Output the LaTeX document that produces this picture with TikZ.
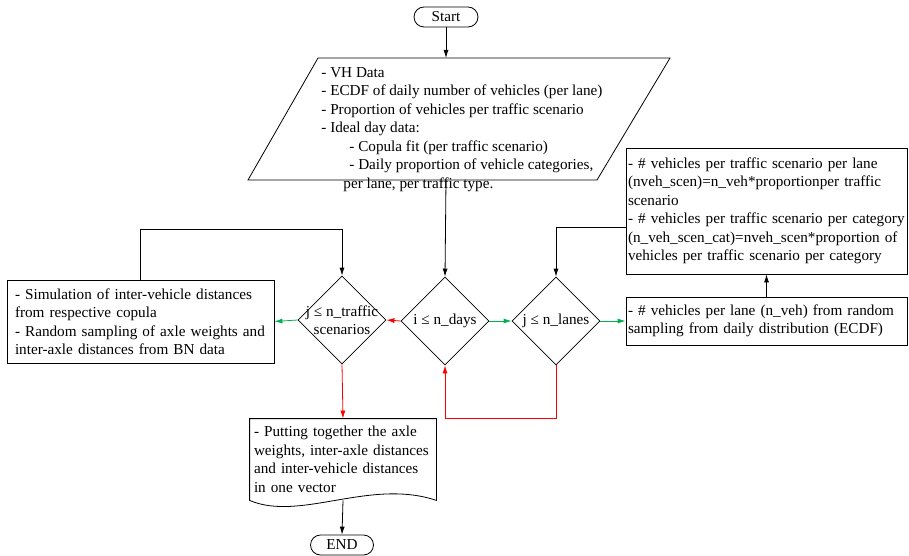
\documentclass[tikz,border=0pt]{standalone}
\usepackage{fontspec}
\setmainfont{Liberation Serif}
\usetikzlibrary{shapes.geometric,shapes.misc,arrows.meta}

\definecolor{flowgreen}{RGB}{0,176,80}
\definecolor{flowred}{RGB}{255,0,0}

\tikzset{
  term/.style={draw,rounded rectangle,minimum width=64,minimum height=20,inner sep=0pt},
  decision/.style={draw,diamond,minimum width=88,minimum height=88,inner sep=0pt},
  stepbox/.style={draw,rectangle,align=left,inner ysep=0pt},
  doc/.style={rectangle,align=left,minimum width=186,minimum height=81,inner xsep=4pt,text width=178},
  arr/.style={-{Latex[length=8pt,width=5pt]}},
  goline/.style={arr,flowgreen},
  stopline/.style={arr,flowred}
}

\begin{document}
\begin{tikzpicture}[x=1pt,y=-1pt,line width=0.8pt,font=\fontsize{15.2}{18.5}\selectfont]
	\useasboundingbox (0,0) rectangle (909,556);
	
	\node[term] (start) at (446,17) {Start};
	% input data (parallelogram)
	\draw (318,58) -- (670,58) -- (597,180) -- (248,180) -- cycle;
	\coordinate (datain) at (446,58);
	\coordinate (dataout) at (446,180);
	\node[anchor=north west,align=left,inner sep=0pt] (data) at (321,67) {- VH Data\\
		- ECDF of daily number of vehicles (per lane)\\
		- Proportion of vehicles per traffic scenario\\
		- Ideal day data:\\
		\hspace*{28pt}- Copula fit (per traffic scenario)\\
		\hspace*{28pt}- Daily proportion of vehicle categories,\\
		\hspace*{22pt}per lane, per traffic type.};
	
	% loops
	\node[decision] (traffic) at (342,320) {};
	\node[align=center,inner sep=0pt] (traffictext) at (traffic) {j ≤ n\_traffic\\scenarios};
	\node[decision] (days) at (445,321) {};
	\node[inner sep=0pt] (daystext) at (days) {i ≤ n\_days};
	\node[decision] (lanes) at (556,321) {};
	\node[inner sep=0pt] (lanestext) at (lanes) {j ≤ n\_lanes};
	
	\node[stepbox,minimum width=267,minimum height=83,text width=251,inner xsep=8pt] (sim) at (140.5,321.5) {- Simulation of inter-vehicle distances\\
		from respective copula\\
		- Random sampling of axle weights and\\
		inter-axle distances from BN data};
	\node[stepbox,minimum width=281,minimum height=48,text width=277,inner xsep=2pt] (veh) at (766.5,321) {- \# vehicles per lane (n\_veh) from random\\
		sampling from daily distribution (ECDF)};
	\node[stepbox,minimum width=281,minimum height=126,text width=277,inner xsep=2pt] (scen) at (766.5,211) {- \# vehicles per traffic scenario per lane\\
		(nveh\_scen)=n\_veh*proportionper traffic\\
		scenario\\
		- \# vehicles per traffic scenario per category\\
		(n\_veh\_scen\_cat)=nveh\_scen*proportion of\\
		vehicles per traffic scenario per category};
	
	\node[doc] (putting) at (343,459.5) {- Putting together the axle\\
		weights, inter-axle distances\\
		and inter-vehicle distances\\
		in one vector};
	\draw (putting.north west) -- (putting.north east) -- (putting.south east)
		.. controls (370,478) and (300,522) .. (putting.south west) -- cycle;
	\node[term,minimum width=63] (endnode) at (342,545) {END};
	
	% connectors
	\draw[arr] (start.south) -- (datain);
	\draw[arr] (dataout) -- (days.north);
	\draw[stopline] (days.west) -- (traffic.east);
	\draw[goline] (days.east) -- (lanes.west);
	\draw[goline] (lanes.east) -- (veh.west);
	\draw[arr] (veh.north) -- (scen.south);
	\draw[arr] (scen.west |- 0,227) -| (lanes.north);
	\draw[goline] (traffic.west) -- (sim.east);
	\draw[arr] (sim.north) -- ++(0,-50) -| (traffic.north);
	\draw[stopline] (lanes.south) -- ++(0,53) -| (days.south);
	\draw[stopline] (traffic.south) -- (putting.north);
	\draw[arr] (putting.south) -- (endnode.north);
\end{tikzpicture}
\end{document}
